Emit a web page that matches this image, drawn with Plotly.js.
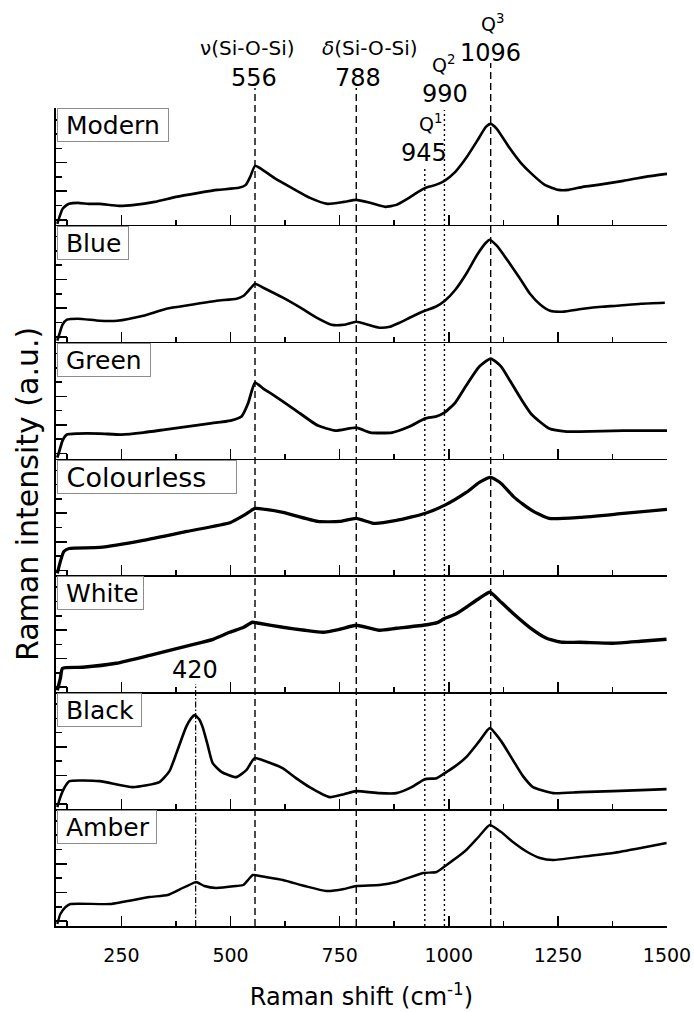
<!DOCTYPE html>
<html>
<head>
<meta charset="utf-8">
<script src="https://cdn.plot.ly/plotly-3.0.1.min.js"></script>
<style>
  html, body { margin: 0; padding: 0; background: #fff; }
  #chart { width: 694px; height: 1012px; }
</style>
</head>
<body>
<div id="chart"></div>
<script>
// Raman spectra of glass samples, stacked top to bottom (a.u.)
const samples = ["Modern", "Blue", "Green", "Colourless", "White", "Black", "Amber"];

const shiftModern = [103,108,115,122,130,150,175,200,244,280,326,375,427,470,519,535,545,556,570,600,640,682,722,760,788,820,854,880,905,930,946,970,990,1015,1040,1065,1085,1096,1110,1139,1165,1190,1220,1251,1275,1307,1342,1400,1450,1500];
const intModern  = [1,8,16,19,21,22,21,21,19,20,23,28,32,35,37,40,48,59,56,47,37,27,21,23,25,22,18,20,26,33,37,40,44,53,67,84,98,101,96,77,62,51,40,35,35,38,40,44,48,51];

const shiftBlue = [103,108,115,125,150,200,240,300,353,410,468,514,530,545,556,575,620,660,697,731,760,788,815,841,865,887,915,945,970,991,1015,1040,1065,1085,1094,1110,1140,1165,1186,1210,1232,1260,1308,1350,1385,1440,1495];
const intBlue   = [1,8,17,22,23,21,21,26,33,37,41,43,46,53,58,54,44,34,24,17,17,20,17,14,15,19,25,31,35,41,52,68,87,99,102,96,78,62,48,37,31,30,33,35,36,38,39];

const shiftGreen = [103,108,115,125,150,200,250,300,350,400,450,500,525,540,556,575,600,650,700,740,788,820,870,910,945,970,990,1015,1040,1070,1096,1120,1140,1165,1190,1230,1270,1300,1400,1500];
const intGreen   = [1,8,18,24,25,25,24,26,29,32,35,38,42,55,76,70,63,48,33,28,31,26,26,32,40,42,46,56,73,92,100,92,78,60,44,30,27,27,28,28];

const shiftColourless = [103,110,118,130,200,300,400,500,530,556,580,620,700,750,788,830,880,945,990,1040,1070,1096,1120,1150,1190,1230,1300,1400,1500];
const intColourless   = [2,14,24,27,28,35,44,53,60,67,66,63,54,54,57,52,55,62,70,83,93,98,92,78,65,57,58,62,66];

const shiftWhite = [103,110,115,161,238,315,406,460,498,530,550,565,620,670,712,750,788,841,880,941,975,991,1015,1040,1070,1094,1120,1147,1185,1224,1260,1300,1376,1440,1499];
const intWhite   = [2,14,24,25,29,37,47,53,60,65,70,69,65,62,60,63,67,62,64,67,70,74,78,85,94,100,90,79,65,54,50,50,49,51,53];

const shiftBlack = [103,110,120,131,200,276,337,360,376,398,410,418,428,436,447,459,480,513,536,555,580,619,650,681,727,760,788,841,880,915,945,972,991,1015,1040,1070,1094,1120,1147,1170,1193,1239,1300,1376,1440,1499];
const intBlack   = [2,12,22,28,28,22,27,38,56,82,91,94,90,82,65,46,37,32,39,51,48,41,31,22,12,15,18,16,16,22,30,31,36,43,52,68,81,68,49,33,22,16,17,18,19,20];

const shiftAmber = [103,110,122,133,224,314,356,390,410,421,440,467,513,529,542,551,580,620,670,719,760,788,841,880,941,972,995,1040,1070,1094,1120,1147,1180,1209,1239,1300,1376,1440,1499];
const intAmber   = [2,12,19,22,22,29,31,38,42,44,40,38,40,41,47,51,49,46,40,35,37,40,41,44,53,54,61,76,90,101,94,84,74,68,66,69,73,78,83];

const shifts = [shiftModern, shiftBlue, shiftGreen, shiftColourless, shiftWhite, shiftBlack, shiftAmber];
const intensities = [intModern, intBlue, intGreen, intColourless, intWhite, intBlack, intAmber];
const lineWidths = [2.6, 2.6, 2.8, 3.2, 3.4, 2.6, 2.4];
const labelBoxWidths = [110, 70, 92, 178, 85, 83, 98];
const labelSizes = [25, 25, 25, 27, 25, 25, 25];

// Band assignments marked across the panels
const dashedBands = [556, 788, 1096];
const dottedBands = [945, 990];
const dashDotBands = [420];

const FONT = "DejaVu Sans, Liberation Sans, Arial, sans-serif";
const N = samples.length;
const PLOT_TOP = 108, PLOT_BOTTOM = 926, PLOT_H = PLOT_BOTTOM - PLOT_TOP;
const py = (pix) => (PLOT_BOTTOM - pix) / PLOT_H;   // page row -> paper fraction

const data = [];
const layout = {
  width: 694, height: 1012,
  margin: { l: 56, r: 27, t: 108, b: 86 },
  paper_bgcolor: "#fff", plot_bgcolor: "#fff",
  showlegend: false,
  font: { family: FONT, color: "#000" },
  shapes: [], annotations: []
};

for (let i = 0; i < N; i++) {
  const k = i + 1;
  const xa = k === 1 ? "x" : "x" + k;
  const ya = k === 1 ? "y" : "y" + k;
  data.push({
    type: "scatter", mode: "lines",
    x: shifts[i], y: intensities[i],
    xaxis: xa, yaxis: ya,
    line: { color: "#000", width: lineWidths[i], shape: "spline", smoothing: 0.5 },
    hoverinfo: "skip"
  });
  const top = 1 - i / N, bottom = 1 - (i + 1) / N;
  const isLast = i === N - 1;
  layout["xaxis" + (k === 1 ? "" : k)] = {
    anchor: ya, domain: [0, 1], range: [100, 1500],
    matches: k === 1 ? undefined : "x",
    showline: true, linecolor: "#000", linewidth: 1.6,
    showgrid: false, zeroline: false,
    tickmode: "linear", tick0: 0, dtick: 250,
    ticks: "inside", ticklen: 10, tickwidth: 1.6, tickcolor: "#000",
    minor: { tickmode: "linear", tick0: 0, dtick: 125, ticks: "inside", ticklen: 5, tickwidth: 1.6, tickcolor: "#000", showgrid: false },
    showticklabels: isLast,
    ticklabelstandoff: 12,
    tickfont: { family: FONT, size: 19, color: "#000" },
    title: isLast ? { text: "Raman shift (cm<sup>-1</sup>)", font: { family: FONT, size: 24, color: "#000" }, standoff: 23 } : undefined
  };
  layout["yaxis" + (k === 1 ? "" : k)] = {
    anchor: xa, domain: [bottom, top], range: [0, PLOT_H / N],
    showline: true, linecolor: "#000", linewidth: 1.6,
    showgrid: false, zeroline: false,
    tickmode: "linear", tick0: 5, dtick: 28.6,
    ticks: "inside", ticklen: 11, tickwidth: 1.6, tickcolor: "#000",
    minor: { tickmode: "linear", tick0: 5, dtick: 14.3, ticks: "inside", ticklen: 6, tickwidth: 1.6, tickcolor: "#000", showgrid: false },
    showticklabels: false, fixedrange: true
  };
  // Sample name in a framed box at the top-left of its panel
  layout.annotations.push({
    xref: "paper", yref: "paper", x: 0, y: top,
    xanchor: "left", yanchor: "top", xshift: 1, yshift: i === 0 ? 0 : -1,
    text: "\u00A0" + samples[i], showarrow: false,
    font: { family: FONT, size: labelSizes[i], color: "#000" },
    bgcolor: "#fff", bordercolor: "#8c8c8c", borderwidth: 1, borderpad: 0,
    width: labelBoxWidths[i], height: 32, align: "left", valign: "middle"
  });
}

// Reference lines for band positions
const lineStart = { 556: 88, 788: 88, 1096: 63, 945: 167, 990: 110, 420: 684 };
dashedBands.forEach(b => layout.shapes.push({
  type: "line", xref: "x", yref: "paper", x0: b, x1: b, y0: 0, y1: py(lineStart[b]),
  line: { color: "#000", width: 1.4, dash: "7px,4px" }
}));
dottedBands.forEach(b => layout.shapes.push({
  type: "line", xref: "x", yref: "paper", x0: b, x1: b, y0: 0, y1: py(lineStart[b]),
  line: { color: "#000", width: 1.4, dash: "2px,3px" }
}));
dashDotBands.forEach(b => layout.shapes.push({
  type: "line", xref: "x", yref: "paper", x0: b, x1: b, y0: 0, y1: py(lineStart[b]),
  line: { color: "#000", width: 1.2, dash: "6px,2px,1.5px,2px" }
}));

// Band labels: a name sits above its wavenumber, meeting at row "edge"
const bandLabels = [
  { x: 554,  edge: 62,  upper: "ν(Si-O-Si)",        lower: "556",  upperSize: 20, upperX: 538 },
  { x: 791,  edge: 62,  upper: "<i>δ</i>(Si-O-Si)", lower: "788",  upperSize: 20, upperX: 819 },
  { x: 992,  edge: 78,  upper: "Q<sup>2</sup>",     lower: "990",  upperSize: 19, upperX: 988 },
  { x: 944,  edge: 137, upper: "Q<sup>1</sup>",     lower: "945",  upperSize: 19, upperX: 958 },
  { x: 1096, edge: 37,  upper: "Q<sup>3</sup>",     lower: "1096", upperSize: 19, upperX: 1100 }
];
bandLabels.forEach(l => {
  layout.annotations.push({
    xref: "x", yref: "paper", x: l.upperX, y: py(l.edge), xanchor: "center", yanchor: "bottom",
    text: l.upper, showarrow: false, borderpad: 0, yshift: 1,
    font: { family: FONT, size: l.upperSize, color: "#000" }
  });
  layout.annotations.push({
    xref: "x", yref: "paper", x: l.x, y: py(l.edge), xanchor: "center", yanchor: "top",
    text: l.lower, showarrow: false, borderpad: 0, yshift: -1,
    font: { family: FONT, size: 24, color: "#000" }
  });
});
layout.annotations.push({
  xref: "x", yref: "paper", x: 418, y: py(670), xanchor: "center", yanchor: "middle",
  text: "420", showarrow: false, font: { family: FONT, size: 24, color: "#000" }
});

// Shared intensity axis title
layout.annotations.push({
  xref: "paper", yref: "paper", x: (27 - 56) / (694 - 83), y: py(494),
  xanchor: "center", yanchor: "middle", textangle: -90,
  text: "Raman intensity (a.u.)", showarrow: false,
  font: { family: FONT, size: 30, color: "#000" }
});

Plotly.newPlot("chart", data, layout, { staticPlot: true, displayModeBar: false });
</script>
</body>
</html>
